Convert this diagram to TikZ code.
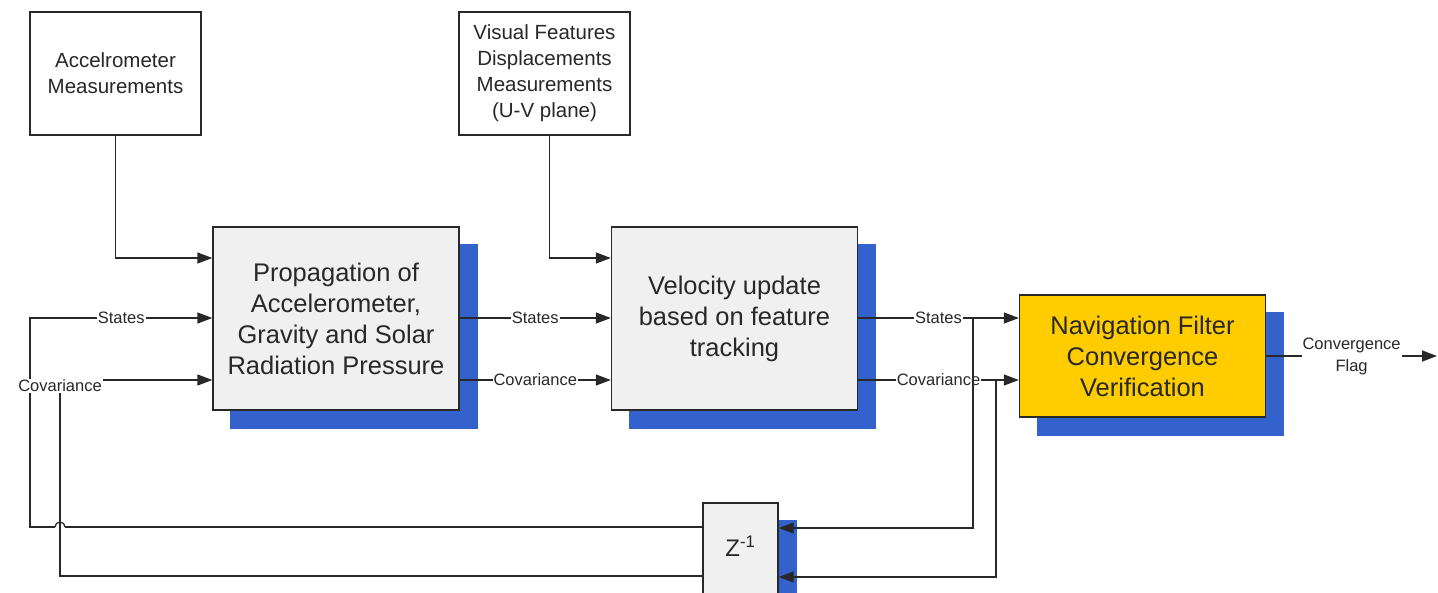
\documentclass[tikz,border=0pt]{standalone}
\usepackage{fontspec}
\setmainfont{Liberation Sans}
\usetikzlibrary{arrows.meta}
\definecolor{boxgray}{RGB}{240,240,240}
\definecolor{shadowblue}{RGB}{51,98,204}
\definecolor{navyellow}{RGB}{255,204,0}
\definecolor{ink}{RGB}{40,40,40}
\pgfdeclarelayer{shadows}
\pgfdeclarelayer{wires}
\pgfsetlayers{shadows,wires,main}
\begin{document}
\begin{tikzpicture}[x=1pt,y=-1pt,
  wire/.style={draw=ink, line width=1.3pt},
  arr/.style={wire, -{Triangle[length=15pt,width=11pt]}},
  block/.style={draw=ink, line width=1.3pt, fill=boxgray, text=ink, align=center, inner sep=0pt},
  inbox/.style={block, fill=white, minimum width=171pt, minimum height=123pt, font=\fontsize{20.5}{26}\selectfont},
  bigbox/.style={block, minimum width=246pt, minimum height=183pt, font=\fontsize{25.5}{31}\selectfont},
  lbl/.style={fill=white, inner sep=1pt, text=ink, font=\fontsize{16.5}{22}\selectfont, align=center},
]
\useasboundingbox (0,0) rectangle (1438,592);

% blocks
\node[inbox] (acc) at (115.5,73.5) {Accelrometer\\Measurements};
\node[inbox] (vis) at (544.5,73.5) {Visual Features\\Displacements\\Measurements\\(U-V plane)};
\node[bigbox] (prop) at (336,318.5) {Propagation of\\Accelerometer,\\Gravity and Solar\\Radiation Pressure};
\node[bigbox] (vel) at (734.5,318.5) {Velocity update\\based on feature\\tracking};
\node[bigbox, fill=navyellow, minimum height=122pt] (nav) at (1142.5,356) {Navigation Filter\\Convergence\\Verification};
\node[block, minimum width=75pt, minimum height=120pt] (z) at (740.5,563) {};
\node[text=ink, font=\fontsize{24}{28}\selectfont] (zt) at ([yshift=-44pt]z.north) {Z\textsuperscript{-1}};

% covariance label on the left feedback branch
\node[lbl] (cl) at (60,386) {Covariance};

% drop shadows
\begin{pgfonlayer}{shadows}
  \foreach \n in {prop,vel,nav,z}
    \fill[shadowblue] ([shift={(18pt,-18pt)}]\n.south west) rectangle ([shift={(18pt,-18pt)}]\n.north east);
\end{pgfonlayer}

\coordinate (sb) at (973,318);
\coordinate (cb) at (996,380);
\coordinate (hop) at (60,527);
\coordinate (flag) at (1437,356);

% connectors
\begin{pgfonlayer}{wires}
  \draw[arr] (acc.south) |- (prop.west |- 0,258);
  \draw[arr] ([xshift=5pt]vis.south) |- (vel.west |- 0,258);

  \draw[arr] (prop.east |- 0,318) -- node[lbl]{States} (vel.west |- 0,318);
  \draw[arr] (prop.east |- 0,380) -- node[lbl]{Covariance} (vel.west |- 0,380);

  \draw[arr] (vel.east |- 0,318) -- node[lbl]{States} (nav.west |- 0,318);
  \draw[arr] (vel.east |- 0,380) -- node[lbl]{Covariance} (nav.west |- 0,380);

  \draw[arr] (sb) |- (z.east |- 0,528);
  \draw[arr] (cb) |- (z.east |- 0,577);

  % states feedback, hopping over the covariance branch
  \draw[wire] (z.west |- hop) -- ([xshift=5pt]hop);
  \draw[wire] ([xshift=5pt]hop) arc[start angle=0, end angle=180, radius=5pt];
  \draw[arr] ([xshift=-5pt]hop) -- (30,527) -- (30,318) -- node[lbl]{States} (prop.west |- 0,318);
  % covariance feedback
  \draw[wire] (z.west |- 0,576) -- (60,576) -- (cl.south);
  \draw[arr] (cl.east |- 0,380) -- (prop.west |- 0,380);

  \draw[arr] (nav.east) -- node[lbl]{Convergence\\Flag} (flag);
\end{pgfonlayer}
\end{tikzpicture}
\end{document}
